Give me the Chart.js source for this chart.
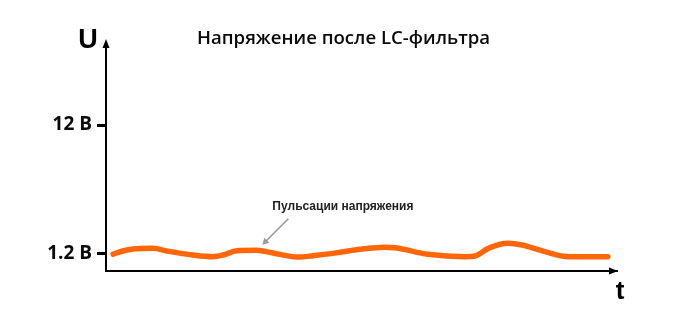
<!DOCTYPE html>
<html>
<head>
<meta charset="utf-8">
<script src="https://cdn.jsdelivr.net/npm/chart.js@4/dist/chart.umd.min.js"></script>
<style>
  html, body { margin: 0; padding: 0; background: #fff; }
  #wrap { width: 700px; height: 325px; position: relative; }
</style>
</head>
<body>
<div id="wrap"><canvas id="c" width="700" height="325"></canvas></div>
<script>
// ---- data ----
const chartTitle = 'Напряжение после LC-фильтра';
const yAxisTitle = 'U';
const xAxisTitle = 't';
const seriesT = [1.4, 3.3, 5.3, 9.2, 11.9, 17.0, 20.9, 22.9, 25.6, 29.5, 32.7, 37.4, 40.5, 45.8, 49.7, 54.6, 56.6, 63.0, 70.3, 72.2, 74.8, 78.7, 81.4, 85.9, 90.4, 98.2];
const seriesU = [1.17, 1.43, 1.59, 1.65, 1.43, 1.09, 0.95, 1.09, 1.45, 1.49, 1.26, 0.92, 1.03, 1.32, 1.57, 1.74, 1.70, 1.15, 0.95, 1.01, 1.65, 2.07, 1.93, 1.37, 0.95, 0.95];
const yTickValues = [1.2, 12];
const yTickLabels = ['1.2 В', '12 В'];
const annotationText = 'Пульсации напряжения';
const annotationPoint = { t: 30.6, u: 1.95 };

const points = seriesT.map((t, i) => ({ x: t, y: seriesU[i] }));

const decorPlugin = {
  id: 'decor',
  afterDraw(chart) {
    const ctx = chart.ctx;
    const a = chart.chartArea;
    const xs = chart.scales.x, ys = chart.scales.y;
    ctx.save();
    // arrowheads
    ctx.fillStyle = '#000';
    const ax = a.left;
    ctx.beginPath();
    ctx.moveTo(ax, a.top - 5);
    ctx.lineTo(ax - 3.5, a.top + 4);
    ctx.lineTo(ax + 3.5, a.top + 4);
    ctx.closePath();
    ctx.fill();
    const ay = a.bottom;
    ctx.beginPath();
    ctx.moveTo(a.right + 1, ay);
    ctx.lineTo(a.right - 8, ay - 3.5);
    ctx.lineTo(a.right - 8, ay + 3.5);
    ctx.closePath();
    ctx.fill();
    // axis names
    ctx.fillStyle = '#000';
    ctx.textBaseline = 'middle';
    ctx.textAlign = 'center';
    ctx.font = 'bold 27px "Liberation Sans", Arial, sans-serif';
    ctx.fillText(yAxisTitle, 88, 41);
    ctx.font = 'bold 26px "Liberation Sans", Arial, sans-serif';
    ctx.fillText(xAxisTitle, 620, 292);
    // title
    ctx.font = '600 18.6px "Open Sans", sans-serif';
    ctx.fillStyle = '#0a0a0a';
    ctx.textAlign = 'left';
    ctx.fillText(chartTitle, 197, 39);
    // annotation
    const tipX = xs.getPixelForValue(annotationPoint.t);
    const tipY = ys.getPixelForValue(annotationPoint.u);
    const sx = tipX + 26, sy = tipY - 26;
    ctx.strokeStyle = '#999';
    ctx.fillStyle = '#999';
    ctx.lineWidth = 1.6;
    ctx.beginPath();
    ctx.moveTo(sx, sy);
    ctx.lineTo(tipX + 4, tipY - 4);
    ctx.stroke();
    ctx.beginPath();
    ctx.moveTo(tipX, tipY);
    ctx.lineTo(tipX + 2, tipY - 7);
    ctx.lineTo(tipX + 7, tipY - 2);
    ctx.closePath();
    ctx.fill();
    ctx.fillStyle = '#222';
    ctx.font = 'bold 12px "Liberation Sans", Arial, sans-serif';
    ctx.textAlign = 'left';
    ctx.fillText(annotationText, tipX + 10, tipY - 38);
    ctx.restore();
  }
};

new Chart(document.getElementById('c'), {
  type: 'line',
  data: {
    datasets: [{
      data: points,
      borderColor: '#ff6608',
      borderWidth: 5.5,
      pointRadius: 0,
      tension: 0.4,
      cubicInterpolationMode: 'monotone',
      fill: false,
      borderCapStyle: 'round',
      borderJoinStyle: 'round'
    }]
  },
  options: {
    responsive: false,
    animation: false,
    events: [],
    layout: { padding: { top: 44, right: 700 - 617, bottom: 325 - 271, left: 0 } },
    plugins: { legend: { display: false }, tooltip: { enabled: false }, title: { display: false } },
    scales: {
      x: {
        type: 'linear',
        min: 0,
        max: 100,
        grid: { display: false },
        border: { display: true, color: '#000', width: 2 },
        ticks: { display: false },
        afterFit(s) { s.height = 0; }
      },
      y: {
        type: 'linear',
        min: -0.25,
        max: 18.8,
        afterBuildTicks(s) { s.ticks = yTickValues.map(v => ({ value: v })); },
        afterFit(s) { s.width = 106; },
        grid: { drawOnChartArea: false, drawTicks: true, tickLength: 9, tickWidth: 3, tickColor: '#000' },
        border: { display: true, color: '#000', width: 2 },
        ticks: {
          padding: 5,
          color: '#0a0a0a',
          font: { family: '"Open Sans", sans-serif', size: 19, weight: '700' },
          callback: (v) => yTickLabels[yTickValues.indexOf(v)]
        }
      }
    }
  },
  plugins: [decorPlugin]
});
</script>
</body>
</html>
